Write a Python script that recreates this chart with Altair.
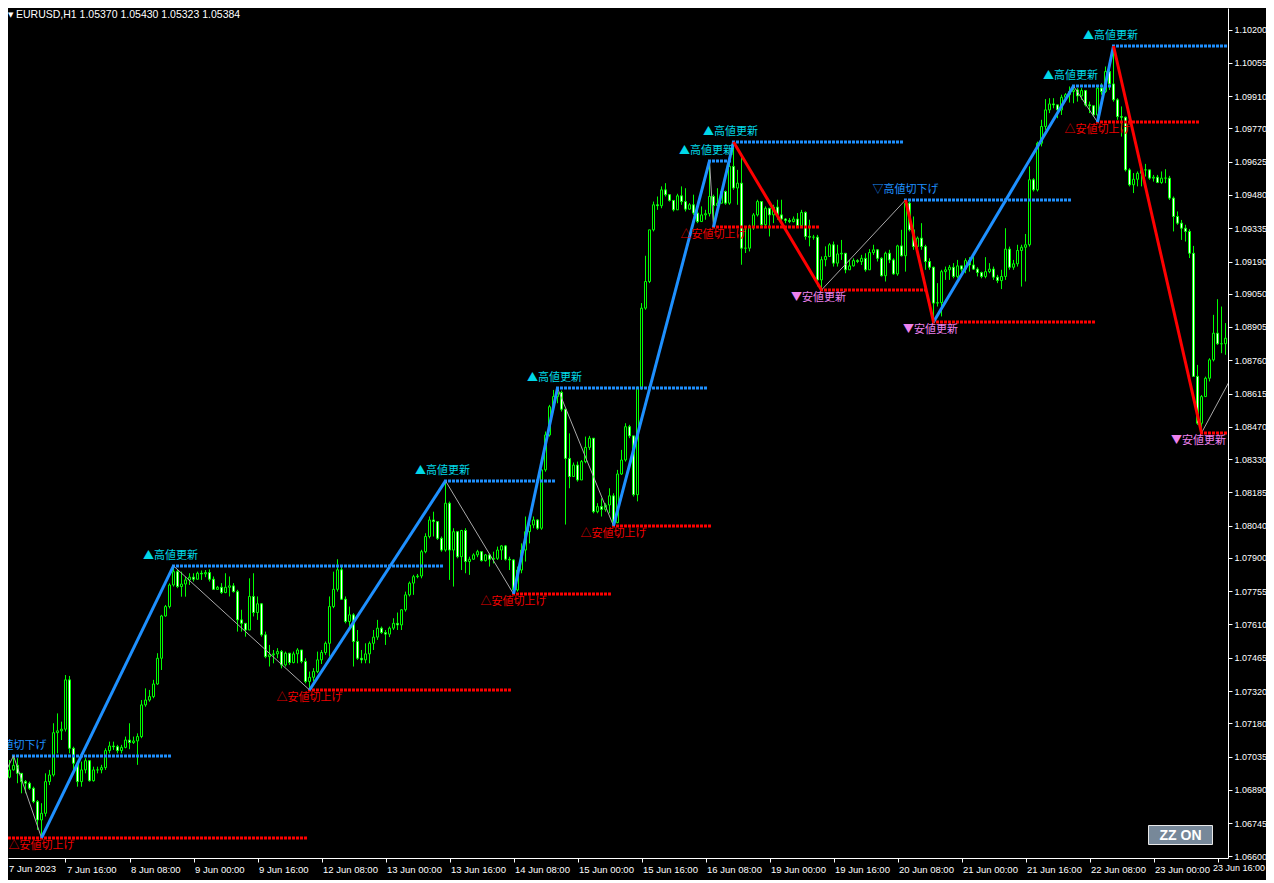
import altair as alt
import pandas as pd

# ---------------- data (H1 bars, bar 0 = 7 Jun 2023 00:00) ----------------
FIRST_OPEN = 1.06930
CLOSE = [
    1.06940, 1.06945, 1.06977, 1.06997, 1.06962, 1.06926, 1.06919, 1.06897, 1.06839, 1.06759,
    1.06788, 1.06926, 1.06955, 1.07139, 1.07147, 1.07154, 1.07369, 1.07071, 1.07006, 1.06926,
    1.06977, 1.07017, 1.06930, 1.06977, 1.06977, 1.06987, 1.07061, 1.07081, 1.07078, 1.07061,
    1.07075, 1.07107, 1.07096, 1.07103, 1.07122, 1.07260, 1.07281, 1.07296, 1.07351, 1.07463,
    1.07647, 1.07688, 1.07782, 1.07840, 1.07775, 1.07786, 1.07804, 1.07816, 1.07807, 1.07833,
    1.07830, 1.07836, 1.07807, 1.07763, 1.07772, 1.07749, 1.07772, 1.07778, 1.07753, 1.07630,
    1.07615, 1.07586, 1.07732, 1.07662, 1.07700, 1.07565, 1.07470, 1.07478, 1.07482, 1.07492,
    1.07434, 1.07485, 1.07444, 1.07482, 1.07499, 1.07449, 1.07362, 1.07380, 1.07405, 1.07456,
    1.07488, 1.07528, 1.07688, 1.07763, 1.07848, 1.07720, 1.07623, 1.07652, 1.07536, 1.07463,
    1.07456, 1.07482, 1.07528, 1.07555, 1.07594, 1.07575, 1.07568, 1.07594, 1.07615, 1.07608,
    1.07674, 1.07739, 1.07790, 1.07818, 1.07821, 1.07927, 1.07993, 1.08065, 1.08058, 1.07985,
    1.07934, 1.08138, 1.07934, 1.08014, 1.07905, 1.08019, 1.07884, 1.07894, 1.07913, 1.07927,
    1.07888, 1.07913, 1.07894, 1.07898, 1.07934, 1.07952, 1.07894, 1.07891, 1.07760, 1.07847,
    1.07934, 1.08014, 1.08043, 1.08065, 1.08029, 1.08283, 1.08435, 1.08558, 1.08602, 1.08620,
    1.08547, 1.08333, 1.08254, 1.08304, 1.08239, 1.08319, 1.08381, 1.08421, 1.08101, 1.08123,
    1.08111, 1.08130, 1.08170, 1.08053, 1.08265, 1.08326, 1.08471, 1.08431, 1.08175, 1.08639,
    1.08987, 1.09103, 1.09328, 1.09437, 1.09433, 1.09502, 1.09481, 1.09456, 1.09415, 1.09476,
    1.09451, 1.09418, 1.09437, 1.09401, 1.09364, 1.09393, 1.09398, 1.09473, 1.09433, 1.09444,
    1.09495, 1.09444, 1.09604, 1.09510, 1.09531, 1.09248, 1.09248, 1.09343, 1.09393, 1.09451,
    1.09350, 1.09422, 1.09393, 1.09427, 1.09393, 1.09375, 1.09369, 1.09364, 1.09375, 1.09346,
    1.09404, 1.09299, 1.09296, 1.09296, 1.09110, 1.09198, 1.09212, 1.09263, 1.09183, 1.09223,
    1.09226, 1.09154, 1.09171, 1.09194, 1.09190, 1.09204, 1.09154, 1.09229, 1.09241, 1.09204,
    1.09128, 1.09226, 1.09197, 1.09136, 1.09258, 1.09215, 1.09444, 1.09328, 1.09255, 1.09292,
    1.09255, 1.09190, 1.09165, 1.09009, 1.09011, 1.09146, 1.09154, 1.09165, 1.09125, 1.09171,
    1.09157, 1.09194, 1.09175, 1.09157, 1.09142, 1.09125, 1.09146, 1.09157, 1.09122, 1.09107,
    1.09125, 1.09244, 1.09165, 1.09180, 1.09238, 1.09252, 1.09263, 1.09546, 1.09502, 1.09705,
    1.09778, 1.09850, 1.09876, 1.09872, 1.09850, 1.09905, 1.09916, 1.09930, 1.09937, 1.09911,
    1.09934, 1.09872, 1.09868, 1.09828, 1.09945, 1.09930, 1.10017, 1.09963, 1.09894, 1.09821,
    1.09818, 1.09589, 1.09524, 1.09548, 1.09574, 1.09589, 1.09589, 1.09553, 1.09557, 1.09534,
    1.09553, 1.09553, 1.09466, 1.09386, 1.09357, 1.09335, 1.09321, 1.09226, 1.08690, 1.08486,
    1.08602, 1.08682, 1.08762, 1.08878, 1.08832, 1.08832, 1.08856,
]
HIGH = [
    1.06955, 1.06955, 1.07020, 1.07038, 1.07028, 1.06962, 1.06933, 1.06926, 1.06904, 1.06846,
    1.06832, 1.06962, 1.06977, 1.07180, 1.07223, 1.07187, 1.07390, 1.07386, 1.07078, 1.06991,
    1.07013, 1.07028, 1.07020, 1.06991, 1.06991, 1.06999, 1.07071, 1.07100, 1.07100, 1.07086,
    1.07086, 1.07122, 1.07180, 1.07122, 1.07136, 1.07281, 1.07332, 1.07325, 1.07369, 1.07485,
    1.07652, 1.07695, 1.07789, 1.07865, 1.07847, 1.07840, 1.07818, 1.07833, 1.07833, 1.07840,
    1.07845, 1.07847, 1.07850, 1.07819, 1.07778, 1.07790, 1.07833, 1.07819, 1.07790, 1.07761,
    1.07674, 1.07615, 1.07811, 1.07833, 1.07732, 1.07703, 1.07579, 1.07521, 1.07499, 1.07507,
    1.07499, 1.07492, 1.07485, 1.07492, 1.07507, 1.07499, 1.07463, 1.07405, 1.07420, 1.07492,
    1.07499, 1.07536, 1.07732, 1.07840, 1.07894, 1.07862, 1.07732, 1.07688, 1.07659, 1.07586,
    1.07499, 1.07528, 1.07536, 1.07586, 1.07630, 1.07601, 1.07586, 1.07601, 1.07637, 1.07662,
    1.07676, 1.07753, 1.07797, 1.07826, 1.07830, 1.07935, 1.08007, 1.08080, 1.08101, 1.08058,
    1.07993, 1.08235, 1.08145, 1.08029, 1.08010, 1.08022, 1.08029, 1.07905, 1.07920, 1.07935,
    1.07927, 1.07917, 1.07920, 1.07927, 1.07949, 1.07956, 1.07956, 1.07905, 1.07894, 1.07862,
    1.07963, 1.08080, 1.08051, 1.08080, 1.08068, 1.08286, 1.08450, 1.08566, 1.08631, 1.08639,
    1.08628, 1.08529, 1.08442, 1.08315, 1.08319, 1.08326, 1.08428, 1.08431, 1.08384, 1.08138,
    1.08159, 1.08138, 1.08203, 1.08181, 1.08283, 1.08370, 1.08486, 1.08479, 1.08429, 1.08646,
    1.09009, 1.09215, 1.09328, 1.09451, 1.09473, 1.09517, 1.09531, 1.09481, 1.09444, 1.09485,
    1.09517, 1.09509, 1.09444, 1.09481, 1.09415, 1.09430, 1.09415, 1.09628, 1.09481, 1.09509,
    1.09502, 1.09499, 1.09618, 1.09710, 1.09589, 1.09662, 1.09343, 1.09350, 1.09401, 1.09459,
    1.09451, 1.09430, 1.09415, 1.09437, 1.09459, 1.09459, 1.09379, 1.09379, 1.09386, 1.09401,
    1.09415, 1.09408, 1.09372, 1.09306, 1.09306, 1.09212, 1.09256, 1.09270, 1.09277, 1.09263,
    1.09284, 1.09226, 1.09197, 1.09204, 1.09200, 1.09219, 1.09226, 1.09244, 1.09263, 1.09244,
    1.09209, 1.09233, 1.09241, 1.09204, 1.09263, 1.09328, 1.09458, 1.09451, 1.09386, 1.09299,
    1.09357, 1.09263, 1.09204, 1.09168, 1.09096, 1.09154, 1.09168, 1.09175, 1.09183, 1.09197,
    1.09168, 1.09204, 1.09209, 1.09212, 1.09165, 1.09146, 1.09209, 1.09183, 1.09168, 1.09132,
    1.09154, 1.09335, 1.09255, 1.09197, 1.09263, 1.09263, 1.09310, 1.09604, 1.09553, 1.09712,
    1.09807, 1.09897, 1.09901, 1.09901, 1.09868, 1.09916, 1.09923, 1.09952, 1.09954, 1.09945,
    1.09945, 1.09937, 1.09886, 1.09868, 1.09952, 1.09966, 1.10039, 1.10024, 1.10128, 1.09901,
    1.09865, 1.09821, 1.09596, 1.09575, 1.09582, 1.09604, 1.09615, 1.09586, 1.09567, 1.09567,
    1.09582, 1.09592, 1.09563, 1.09473, 1.09408, 1.09371, 1.09350, 1.09331, 1.09258, 1.08740,
    1.08609, 1.08689, 1.08769, 1.08958, 1.09026, 1.08994, 1.08922,
]
LOW = [
    1.06919, 1.06930, 1.06940, 1.06974, 1.06919, 1.06875, 1.06875, 1.06890, 1.06832, 1.06716,
    1.06681, 1.06774, 1.06911, 1.06948, 1.07049, 1.07107, 1.07144, 1.07049, 1.06977, 1.06904,
    1.06904, 1.06962, 1.06926, 1.06926, 1.06962, 1.06962, 1.06977, 1.07049, 1.07064, 1.07049,
    1.07049, 1.07071, 1.07067, 1.07090, 1.06999, 1.07115, 1.07252, 1.07274, 1.07289, 1.07347,
    1.07412, 1.07644, 1.07680, 1.07775, 1.07768, 1.07731, 1.07731, 1.07782, 1.07797, 1.07807,
    1.07804, 1.07816, 1.07797, 1.07761, 1.07761, 1.07743, 1.07746, 1.07732, 1.07749, 1.07579,
    1.07579, 1.07557, 1.07601, 1.07645, 1.07630, 1.07557, 1.07463, 1.07427, 1.07441, 1.07463,
    1.07419, 1.07427, 1.07434, 1.07441, 1.07441, 1.07441, 1.07354, 1.07325, 1.07362, 1.07398,
    1.07438, 1.07478, 1.07470, 1.07681, 1.07753, 1.07717, 1.07615, 1.07601, 1.07427, 1.07456,
    1.07441, 1.07441, 1.07441, 1.07499, 1.07543, 1.07569, 1.07521, 1.07555, 1.07586, 1.07586,
    1.07586, 1.07666, 1.07732, 1.07739, 1.07811, 1.07811, 1.07920, 1.07985, 1.07993, 1.07978,
    1.07927, 1.07927, 1.07804, 1.07775, 1.07898, 1.07847, 1.07833, 1.07826, 1.07891, 1.07903,
    1.07884, 1.07884, 1.07862, 1.07876, 1.07891, 1.07891, 1.07888, 1.07847, 1.07743, 1.07753,
    1.07833, 1.07884, 1.07963, 1.08029, 1.08022, 1.08022, 1.08275, 1.08428, 1.08551, 1.08573,
    1.08537, 1.08045, 1.08203, 1.08265, 1.08232, 1.08297, 1.08312, 1.08370, 1.08094, 1.08094,
    1.08080, 1.08101, 1.08094, 1.08039, 1.08051, 1.08261, 1.08319, 1.08421, 1.08167, 1.08146,
    1.08632, 1.08980, 1.09096, 1.09321, 1.09415, 1.09422, 1.09473, 1.09451, 1.09408, 1.09415,
    1.09437, 1.09408, 1.09415, 1.09393, 1.09357, 1.09372, 1.09372, 1.09386, 1.09340, 1.09437,
    1.09451, 1.09437, 1.09437, 1.09502, 1.09437, 1.09176, 1.09227, 1.09234, 1.09328, 1.09386,
    1.09343, 1.09343, 1.09299, 1.09357, 1.09372, 1.09357, 1.09357, 1.09357, 1.09360, 1.09343,
    1.09343, 1.09285, 1.09256, 1.09285, 1.09082, 1.09066, 1.09169, 1.09212, 1.09168, 1.09168,
    1.09197, 1.09139, 1.09154, 1.09168, 1.09183, 1.09175, 1.09146, 1.09212, 1.09219, 1.09190,
    1.09125, 1.09103, 1.09183, 1.09132, 1.09128, 1.09212, 1.09146, 1.09321, 1.09241, 1.09226,
    1.09241, 1.09154, 1.09154, 1.08927, 1.08994, 1.08951, 1.09110, 1.09110, 1.09117, 1.09117,
    1.09146, 1.09139, 1.09146, 1.09154, 1.09125, 1.09117, 1.09117, 1.09139, 1.09110, 1.09096,
    1.09070, 1.09110, 1.09154, 1.09154, 1.09168, 1.09081, 1.09103, 1.09255, 1.09495, 1.09495,
    1.09691, 1.09763, 1.09836, 1.09857, 1.09814, 1.09828, 1.09886, 1.09882, 1.09879, 1.09886,
    1.09894, 1.09865, 1.09836, 1.09821, 1.09797, 1.09916, 1.09923, 1.09937, 1.09886, 1.09807,
    1.09734, 1.09582, 1.09517, 1.09488, 1.09517, 1.09517, 1.09560, 1.09546, 1.09538, 1.09531,
    1.09528, 1.09531, 1.09458, 1.09321, 1.09350, 1.09284, 1.09277, 1.09205, 1.08689, 1.08479,
    1.08444, 1.08602, 1.08668, 1.08755, 1.08827, 1.08791, 1.08784,
]

PRICE_TICKS = [1.10200, 1.10055, 1.09910, 1.09770, 1.09625, 1.09480, 1.09335, 1.09190,
               1.09050, 1.08905, 1.08760, 1.08615, 1.08470, 1.08330, 1.08185, 1.08040,
               1.07900, 1.07755, 1.07610, 1.07465, 1.07320, 1.07180, 1.07035, 1.06890,
               1.06745, 1.06600]
TIME_TICK_BARS = [0, 16, 32, 48, 64, 80, 96, 112, 128, 144, 160, 176, 192, 208, 224,
                  240, 256, 272, 288, 304]
TIME_LABELS = ["7 Jun 2023", "7 Jun 16:00", "8 Jun 08:00", "9 Jun 00:00", "9 Jun 16:00",
               "12 Jun 08:00", "13 Jun 00:00", "13 Jun 16:00", "14 Jun 08:00", "15 Jun 00:00",
               "15 Jun 16:00", "16 Jun 08:00", "19 Jun 00:00", "19 Jun 16:00", "20 Jun 08:00",
               "21 Jun 00:00", "21 Jun 16:00", "22 Jun 08:00", "23 Jun 00:00", "23 Jun 16:00"]

# ZigZag pivots (bar, price) and the style of each leg between consecutive pivots
PIVOT_BARS = [0, 3, 10, 43, 77, 111, 128, 139, 153, 177, 178, 183, 205, 226, 233,
              268, 274, 278, 300, 307]
PIVOT_PRICES = [1.06933, 1.07038, 1.06681, 1.07865, 1.07325, 1.08235, 1.07743, 1.08639,
                1.08039, 1.09628, 1.09340, 1.09710, 1.09066, 1.09458, 1.08927, 1.09954,
                1.09797, 1.10128, 1.08444, 1.08670]
LEG_KINDS = ["thin", "thin", "up", "thin", "up", "thin", "up", "thin", "up", "thin",
             "up", "down", "thin", "down", "up", "thin", "up", "down", "thin"]

# labels at pivots 1..18
LABEL_PIVOTS = list(range(1, 19))
LABEL_TEXTS = ["▽高値切下げ", "△安値切上げ", "▲高値更新", "△安値切上げ", "▲高値更新",
               "△安値切上げ", "▲高値更新", "△安値切上げ", "▲高値更新", "△安値切上げ",
               "▲高値更新", "▼安値更新", "▽高値切下げ", "▼安値更新", "▲高値更新",
               "△安値切上げ", "▲高値更新", "▼安値更新"]

# horizontal levels (start bar, end bar, price)
HIGH_LEVEL_START = [3, 43, 111, 139, 177, 183, 226, 268, 278]
HIGH_LEVEL_END = [42, 110, 138, 176, 182, 225, 267, 277, 306]
HIGH_LEVEL_PRICE = [1.07038, 1.07865, 1.08235, 1.08639, 1.09628, 1.09710, 1.09458, 1.09954, 1.10128]
LOW_LEVEL_START = [0, 77, 128, 153, 178, 205, 233, 274, 300]
LOW_LEVEL_END = [76, 127, 152, 177, 204, 231, 273, 299, 306]
LOW_LEVEL_PRICE = [1.06681, 1.07325, 1.07743, 1.08039, 1.09340, 1.09066, 1.08927, 1.09797, 1.08444]

TITLE = "EURUSD,H1  1.05370 1.05430 1.05323 1.05384"
BUTTON = "ZZ ON"

# ---------------- build ----------------
W, H = 1220, 850
PAD_RIGHT, PAD_BOTTOM = 38, 22
xs = alt.Scale(domain=[1.625, 306.625], nice=False, zero=False)
ys = alt.Scale(domain=[1.0659347, 1.102936], nice=False, zero=False)

n = len(CLOSE)
opens = [FIRST_OPEN] + CLOSE[:-1]
candles = pd.DataFrame({"bar": list(range(n)), "open": opens, "high": HIGH,
                        "low": LOW, "close": CLOSE})
candles["top"] = candles[["high", "open", "close"]].max(axis=1)
candles["bottom"] = candles[["low", "open", "close"]].min(axis=1)

# first and last time labels are drawn as separate texts so they stay inside the page
axis_labels = [""] + TIME_LABELS[1:-1] + [""]
lab_js = "[" + ",".join("'" + s + "'" for s in axis_labels) + "]"
x_axis = alt.Axis(values=TIME_TICK_BARS[1:], labelExpr=lab_js + "[round(datum.value / 16)]",
                  orient="bottom", title=None, grid=False, domainColor="#FFFFFF",
                  tickColor="#FFFFFF", tickSize=4, labelColor="#FFFFFF",
                  labelFont="Liberation Sans", labelFontSize=9.5, labelAlign="left",
                  labelBaseline="top", labelPadding=2, labelOverlap=False,
                  labelFlush=False, labelOffset=1)
y_axis = alt.Axis(values=PRICE_TICKS, format=".5f", orient="right", title=None, grid=False,
                  domainColor="#FFFFFF", tickColor="#FFFFFF", tickSize=4,
                  labelColor="#FFFFFF", labelFont="Liberation Sans", labelFontSize=9,
                  labelPadding=2, labelOverlap=False, labelFlush=False)


def X(field):
    return alt.X(field, scale=xs, axis=x_axis)


def Y(field):
    return alt.Y(field, scale=ys, axis=y_axis)


LIME = "#00FF00"
wicks = alt.Chart(candles).mark_rule(color=LIME, strokeWidth=1, clip=True).encode(
    x=X("bar:Q"), y=Y("bottom:Q"), y2="top:Q",
)
bodies = alt.Chart(candles).transform_calculate(
    b0="datum.bar - 0.25", b1="datum.bar + 0.25"
).mark_bar(stroke=LIME, strokeWidth=1, clip=True).encode(
    x=X("b0:Q"), x2="b1:Q",
    y=Y("open:Q"), y2="close:Q",
    fill=alt.when(alt.datum.close > alt.datum.open).then(alt.value("#000000")).otherwise(alt.value("#FFFFFF")),
)

levels = pd.DataFrame({
    "start": HIGH_LEVEL_START + LOW_LEVEL_START,
    "end": HIGH_LEVEL_END + LOW_LEVEL_END,
    "price": HIGH_LEVEL_PRICE + LOW_LEVEL_PRICE,
    "side": ["high"] * len(HIGH_LEVEL_START) + ["low"] * len(LOW_LEVEL_START),
})


def level_layer(side, color):
    return alt.Chart(levels).transform_filter(f"datum.side == '{side}'").transform_calculate(
        s="datum.start - 0.375", e="datum.end + 0.375"
    ).mark_rule(color=color, strokeWidth=3, strokeDash=[3, 1], clip=True).encode(
        x=X("s:Q"), x2="e:Q", y=Y("price:Q"),
    )


legs = pd.DataFrame({"xa": PIVOT_BARS[:-1], "xb": PIVOT_BARS[1:],
                     "ya": PIVOT_PRICES[:-1], "yb": PIVOT_PRICES[1:], "kind": LEG_KINDS})


def leg_layer(kind, color, width):
    return alt.Chart(legs).transform_filter(f"datum.kind == '{kind}'").mark_rule(
        color=color, strokeWidth=width, clip=True
    ).encode(
        x=X("xa:Q"), x2="xb:Q", y=Y("ya:Q"), y2="yb:Q",
    )


labels = pd.DataFrame({
    "bar": [PIVOT_BARS[i] for i in LABEL_PIVOTS],
    "price": [PIVOT_PRICES[i] for i in LABEL_PIVOTS],
    "text": LABEL_TEXTS,
})
LABEL_STYLE = {
    "▲高値更新": ("#00D8E8", -10, -3),
    "▽高値切下げ": ("#1E90FF", -10, 0),
    "△安値切上げ": ("#F00000", 8, 0),
    "▼安値更新": ("#EE82EE", 8, -3),
}


def label_layer(text, color, dy, dx):
    return alt.Chart(labels).transform_filter(alt.datum.text == text).mark_text(
        color=color, dy=dy, dx=dx, font="Noto Sans CJK JP", fontSize=11,
        align="center", baseline="middle", clip=True
    ).encode(
        x=X("bar:Q"), y=Y("price:Q"), text="text:N",
    )


title_df = pd.DataFrame({"t": [TITLE]})
title = alt.Chart(title_df).mark_text(
    align="left", baseline="middle", color="#FFFFFF", font="Liberation Sans",
    fontSize=10.5
).encode(x=alt.value(8), y=alt.value(7), text="t:N")
title_arrow = alt.Chart(pd.DataFrame({"t": ["▼"]})).mark_text(
    align="left", baseline="middle", color="#FFFFFF", font="DejaVu Sans",
    fontSize=7
).encode(x=alt.value(0), y=alt.value(7), text="t:N")

first_label = alt.Chart(pd.DataFrame({"t": [TIME_LABELS[0]]})).mark_text(
    align="left", baseline="top", color="#FFFFFF", font="Liberation Sans", fontSize=9.5
).encode(x=alt.value(1), y=alt.value(H + 6), text="t:N")
last_label = alt.Chart(pd.DataFrame({"t": [TIME_LABELS[-1]]})).mark_text(
    align="right", baseline="top", color="#FFFFFF", font="Liberation Sans", fontSize=9
).encode(x=alt.value(W + PAD_RIGHT - 1), y=alt.value(H + 6), text="t:N")

btn_df = pd.DataFrame({"t": [BUTTON]})
button_rect = alt.Chart(btn_df).mark_rect(
    fill="#778899", stroke="#E8E8E8", strokeWidth=1
).encode(x=alt.value(1140.5), x2=alt.value(1204.5), y=alt.value(817.5), y2=alt.value(836.5))
button_text = alt.Chart(btn_df).mark_text(
    color="#FFFFFF", font="Liberation Sans", fontSize=14, fontWeight="bold",
    align="center", baseline="middle"
).encode(x=alt.value(1172.5), y=alt.value(827.5), text="t:N")

layers = [wicks, bodies,
          level_layer("high", "#1E90FF"), level_layer("low", "#FF0000"),
          leg_layer("thin", "#A9A9A9", 1),
          leg_layer("up", "#1E90FF", 3), leg_layer("down", "#FF0000", 3)]
for txt, (col, dy, dx) in LABEL_STYLE.items():
    layers.append(label_layer(txt, col, dy, dx))
layers += [title, title_arrow, first_label, last_label, button_rect, button_text]

chart = alt.layer(*layers).properties(
    width=W, height=H, background="#000000",
    autosize=alt.AutoSizeParams(type="none"),
    padding={"left": 0, "top": 0, "right": PAD_RIGHT, "bottom": PAD_BOTTOM},
).configure_view(stroke=None)

chart.save("out.html", embed_options={"renderer": "svg", "actions": False})
